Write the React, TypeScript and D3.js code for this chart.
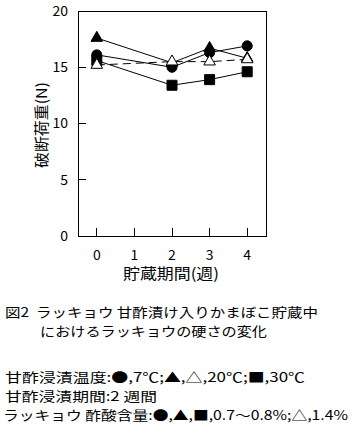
import React from "react";
import * as d3 from "d3";

const weeks = [0, 2, 3, 4];
const circle7 = [16.1, 15.0, 16.3, 16.9];
const triFilled20 = [17.6, 15.4, 16.7, 15.8];
const triOpen20 = [15.2, 15.5, 15.5, 15.7];
const square30 = [15.6, 13.4, 13.9, 14.6];
const xTicks = [0, 1, 2, 3, 4];
const yTicks = [0, 5, 10, 15, 20];

const FONT = "'Noto Sans CJK JP', 'Noto Sans', sans-serif";

export default function App() {
  const x = d3.scaleLinear().domain([-0.5, 4.5]).range([78, 266]);
  const y = d3.scaleLinear().domain([0, 20]).range([236, 11]);
  const line = d3.line<number>().x((_, i) => x(weeks[i])).y((v) => y(v));

  const circ = d3.symbol().type(d3.symbolCircle).size(80)()!;
  const sq = d3.symbol().type(d3.symbolSquare).size(100)()!;
  const tri = d3.symbol().type(d3.symbolTriangle).size(58)()!;

  const series = [
    { data: square30, path: sq, fill: "#000", dash: undefined },
    { data: circle7, path: circ, fill: "#000", dash: undefined },
    { data: triFilled20, path: tri, fill: "#000", dash: undefined },
    { data: triOpen20, path: tri, fill: "#fff", dash: "8,5" },
  ];

  return (
    <svg
      width={353}
      height={435}
      style={{ position: "absolute", left: 0, top: 0, background: "#fff" }}
      fontFamily={FONT}
    >
      <rect x={0} y={0} width={353} height={435} fill="#fff" />
      <rect x={78} y={11} width={188} height={225} fill="none" stroke="#000" strokeWidth={1} shapeRendering="crispEdges" />
      {yTicks.map((t) => (
        <g key={"y" + t}>
          <line x1={78} x2={86} y1={y(t)} y2={y(t)} stroke="#000" shapeRendering="crispEdges" />
          <text x={68} y={y(t)} dy="0.35em" textAnchor="end" fontSize={14}>
            {t}
          </text>
        </g>
      ))}
      {xTicks.map((t) => (
        <g key={"x" + t}>
          <line x1={x(t)} x2={x(t)} y1={236} y2={228} stroke="#000" shapeRendering="crispEdges" />
          <text x={x(t)} y={255} dy="0.35em" textAnchor="middle" fontSize={14}>
            {t}
          </text>
        </g>
      ))}
      <text x={123} y={274} dy="0.35em" fontSize={15} textLength={96} lengthAdjust="spacingAndGlyphs">
        貯蔵期間(週)
      </text>
      <text
        transform={`translate(42,168) rotate(-90)`}
        dy="0.35em"
        fontSize={15}
        textLength={86}
        lengthAdjust="spacingAndGlyphs"
      >
        破断荷重(N)
      </text>
      {series.map((s, i) => (
        <path key={"l" + i} d={line(s.data)!} fill="none" stroke="#000" strokeWidth={1} strokeDasharray={s.dash} />
      ))}
      {series.map((s, i) =>
        s.data.map((v, j) => (
          <path
            key={"m" + i + "-" + j}
            d={s.path}
            transform={`translate(${x(weeks[j])},${y(v)})`}
            fill={s.fill}
            stroke="#000"
            strokeWidth={1}
          />
        ))
      )}
      <g fontSize={13}>
        <text x={5} y={312} dy="0.35em" textLength={313} lengthAdjust="spacingAndGlyphs">図2&#160;&#160;ラッキョウ 甘酢漬け入りかまぼこ貯蔵中</text>
        <text x={40} y={331} dy="0.35em" textLength={227} lengthAdjust="spacingAndGlyphs">におけるラッキョウの硬さの変化</text>
        <text x={5} y={377} dy="0.35em" textLength={300} lengthAdjust="spacingAndGlyphs">甘酢浸漬温度:●,7℃;▲,△,20℃;■,30℃</text>
        <text x={5} y={396} dy="0.35em" textLength={152} lengthAdjust="spacingAndGlyphs">甘酢浸漬期間:2 週間</text>
        <text x={3} y={415} dy="0.35em" textLength={345} lengthAdjust="spacingAndGlyphs">ラッキョウ 酢酸含量:●,▲,■,0.7～0.8%;△,1.4%</text>
      </g>
    </svg>
  );
}
